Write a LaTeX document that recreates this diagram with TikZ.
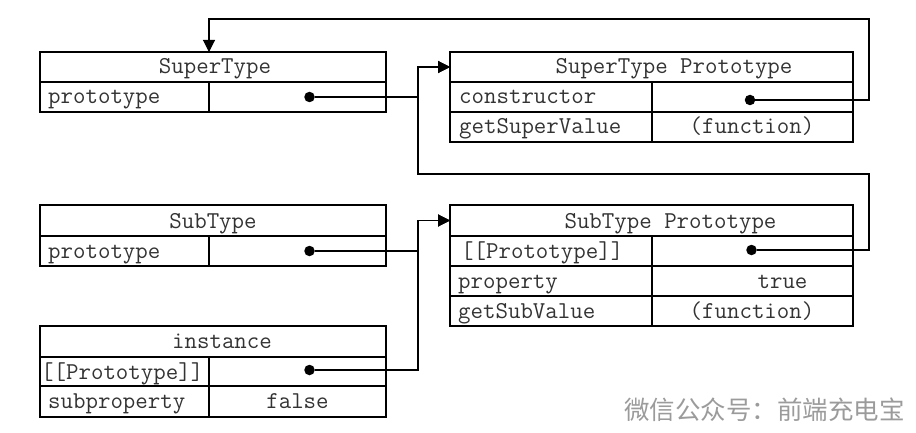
\documentclass[tikz,border=0pt]{standalone}
\usepackage{fontspec}
\newfontfamily\cjk{Noto Sans CJK SC}
\usetikzlibrary{arrows.meta,calc}
\begin{document}
\begin{tikzpicture}[x=1pt,y=-1pt,
  cell/.style={draw,line width=1.1pt,inner sep=0pt,outer sep=0pt,anchor=north west},
  txt/.style={font=\ttfamily\fontsize{24.2}{28}\selectfont,text=black!80,inner sep=0pt},
  lt/.style={txt,anchor=base west},
  ct/.style={txt,anchor=base},
  dot/.style={circle,fill=black,inner sep=0pt,minimum size=10.5pt},
  link/.style={line width=1.1pt,-{Triangle[length=12pt,width=12pt]}}]
\useasboundingbox (0,0) rectangle (916,433);
% SuperType
\node[cell,minimum width=346pt,minimum height=30pt] (st-h) at (40,52) {};
\node[cell,minimum width=169pt,minimum height=30pt] (st-k1) at (40,82) {};
\node[cell,minimum width=177pt,minimum height=30pt] (st-v1) at (209,82) {};
\node[ct] (t-st-h) at (215,74) {SuperType};
\node[lt] (t-st-k1) at (48,104) {prototype};
\node[dot] (st-dot) at (309.5,97) {};
% SuperType Prototype
\node[cell,minimum width=403pt,minimum height=30pt] (stp-h) at (450,52) {};
\node[cell,minimum width=202pt,minimum height=30pt] (stp-k1) at (450,82) {};
\node[cell,minimum width=201pt,minimum height=30pt] (stp-v1) at (652,82) {};
\node[cell,minimum width=202pt,minimum height=30pt] (stp-k2) at (450,112) {};
\node[cell,minimum width=201pt,minimum height=30pt] (stp-v2) at (652,112) {};
\node[ct] (t-stp-h) at (674,74) {SuperType Prototype};
\node[lt] (t-stp-k1) at (459,104) {constructor};
\node[lt] (t-stp-k2) at (459,134) {getSuperValue};
\node[ct] (t-stp-v2) at (752,134) {(function)};
\node[dot] (stp-dot) at (750,100) {};
% SubType
\node[cell,minimum width=346pt,minimum height=31pt] (sb-h) at (40,205) {};
\node[cell,minimum width=169pt,minimum height=30pt] (sb-k1) at (40,236) {};
\node[cell,minimum width=177pt,minimum height=30pt] (sb-v1) at (209,236) {};
\node[ct] (t-sb-h) at (213,228) {SubType};
\node[lt] (t-sb-k1) at (48,258) {prototype};
\node[dot] (sb-dot) at (309.5,251) {};
% SubType Prototype
\node[cell,minimum width=403pt,minimum height=31pt] (sbp-h) at (450,205) {};
\node[cell,minimum width=202pt,minimum height=30pt] (sbp-k1) at (450,236) {};
\node[cell,minimum width=201pt,minimum height=30pt] (sbp-v1) at (652,236) {};
\node[cell,minimum width=202pt,minimum height=30pt] (sbp-k2) at (450,266) {};
\node[cell,minimum width=201pt,minimum height=30pt] (sbp-v2) at (652,266) {};
\node[cell,minimum width=202pt,minimum height=30pt] (sbp-k3) at (450,296) {};
\node[cell,minimum width=201pt,minimum height=30pt] (sbp-v3) at (652,296) {};
\node[ct] (t-sbp-h) at (670.5,228) {SubType Prototype};
\node[lt] (t-sbp-k1) at (461,258) {[[Prototype]]};
\node[lt] (t-sbp-k2) at (458,288) {property};
\node[ct] (t-sbp-v2) at (782.5,288) {true};
\node[lt] (t-sbp-k3) at (458,318) {getSubValue};
\node[ct] (t-sbp-v3) at (752,318) {(function)};
\node[dot] (sbp-dot) at (751.5,250) {};
% instance
\node[cell,minimum width=346pt,minimum height=31pt] (in-h) at (40,326) {};
\node[cell,minimum width=169pt,minimum height=29pt] (in-k1) at (40,357) {};
\node[cell,minimum width=177pt,minimum height=29pt] (in-v1) at (209,357) {};
\node[cell,minimum width=169pt,minimum height=31pt] (in-k2) at (40,386) {};
\node[cell,minimum width=177pt,minimum height=31pt] (in-v2) at (209,386) {};
\node[ct] (t-in-h) at (222,348) {instance};
\node[lt] (t-in-k1) at (41,379) {[[Prototype]]};
\node[lt] (t-in-k2) at (48,408) {subproperty};
\node[ct] (t-in-v2) at (297.5,408) {false};
\node[dot] (in-dot) at (309.5,370) {};
% routing points
\coordinate (c1) at (869,19);
\coordinate (c2) at (869,174);
\coordinate (c3) at (418,174);
% connectors
\draw[link] (st-dot) -- (st-dot -| c3) |- (stp-h.west);
\draw[link] (stp-dot) -- (stp-dot -| c1) -- (c1) -- (c1 -| st-v1.west) -- (st-v1.west |- st-h.north);
\draw[link] (sbp-dot) -- (sbp-dot -| c2) -- (c2) -- (c3) |- (stp-h.west);
\draw[link] (sb-dot) -- (sb-dot -| c3) |- (sbp-h.west);
\draw[link] (in-dot) -- (in-dot -| c3) |- (sbp-h.west);
% watermark
\node[anchor=west,inner sep=0pt,font=\cjk\fontsize{25.5}{28}\selectfont,text={rgb,255:red,155;green,155;blue,155}] (wm) at (624,410) {微信公众号：前端充电宝};
\end{tikzpicture}
\end{document}
